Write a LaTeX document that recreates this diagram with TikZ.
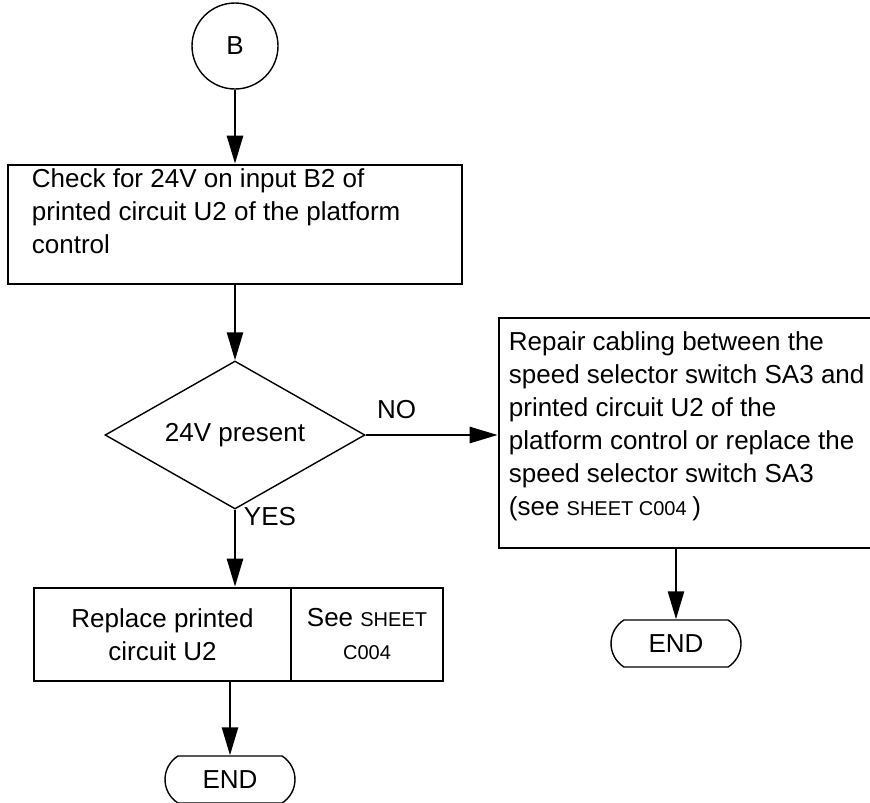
\documentclass[tikz,border=0pt]{standalone}
\usepackage{fontspec}
\setmainfont{Liberation Sans}
\usetikzlibrary{positioning,arrows.meta,shapes.geometric,shapes.misc}
\newcommand{\sheetfont}{\fontsize{20pt}{33pt}\selectfont}

\begin{document}
\begin{tikzpicture}[
    x=1pt, y=-1pt,
    font=\fontsize{26pt}{33pt}\selectfont,
    stepbox/.style={draw, line width=2.6pt, inner sep=0pt},
    boxtext/.style={align=left, inner sep=0pt},
    offpage/.style={draw, circle, line width=1.4pt, minimum size=86pt, inner sep=0pt},
    decision/.style={draw, diamond, aspect=1.75, line width=1.4pt, minimum width=260pt, minimum height=148pt, inner sep=0pt},
    terminal/.style={draw, rounded rectangle, rounded rectangle arc length=115, line width=1.4pt, minimum width=130pt, minimum height=47pt, inner sep=0pt},
    arrow/.style={-{Triangle[length=28pt, width=16pt]}, line width=2.6pt},
    answer/.style={inner sep=0pt}
]
\useasboundingbox (0,0) rectangle (870,803);
\clip (0,0) rectangle (870,803);

% Entry
\node[offpage] (start) at (235,46) {B};

% Check step
\node[stepbox, minimum width=454pt, minimum height=119pt, below=74pt of start] (check) {};
\node[boxtext, anchor=north west] (checktxt) at ([xshift=25pt, yshift=-5pt]check.north west)
    {Check for 24V on input B2 of\\printed circuit U2 of the platform\\control};
\draw[arrow] (start) -- (check);

% Decision
\node[decision, below=75pt of check] (dia) {24V present};
\draw[arrow] (check) -- (dia);

% NO branch
\node[stepbox, minimum width=383pt, minimum height=230pt, right=132pt of dia, yshift=2pt] (fix) {};
\node[boxtext, anchor=north west] (fixtxt) at ([xshift=11pt, yshift=-15pt]fix.north west)
    {Repair cabling between the\\speed selector switch SA3 and\\printed circuit U2 of the\\platform control or replace the\\speed selector switch SA3\\(see {\sheetfont SHEET C004 })};
\draw[arrow] (dia.east) -- (dia.east -| fix.west);
\node[answer] (no) at ([xshift=31pt, yshift=25pt]dia.east) {NO};

\node[terminal, below=70pt of fix, xshift=-14.5pt] (endr) {END};
\draw[arrow] (endr.north |- fix.south) -- (endr.north);

% YES branch
\node[stepbox, align=center, minimum width=257pt, minimum height=93pt, below=77pt of dia, xshift=-72.5pt] (repl) {Replace printed\\circuit U2};
\node[stepbox, align=center, minimum width=152pt, minimum height=93pt, right=-2.6pt of repl] (see) {See {\sheetfont SHEET}\\{\sheetfont C004}};
\draw[arrow] (dia.south) -- (dia.south |- repl.north);
\node[answer] (yes) at ([xshift=35pt, yshift=-7pt]dia.south) {YES};

\node[terminal, below=73pt of repl, xshift=67.5pt] (endl) {END};
\draw[arrow] (endl.north |- repl.south) -- (endl.north);
\end{tikzpicture}
\end{document}
